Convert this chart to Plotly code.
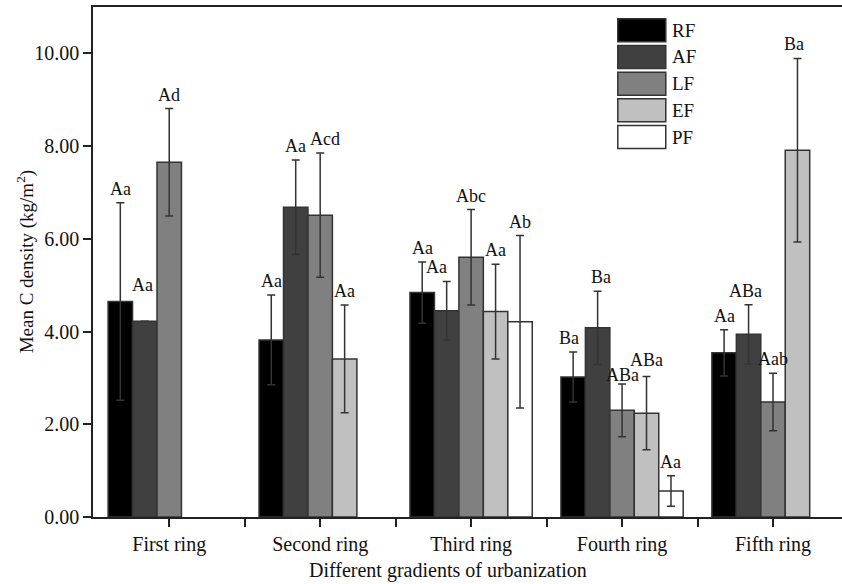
import plotly.graph_objects as go

categories = ["First ring", "Second ring", "Third ring", "Fourth ring", "Fifth ring"]
series = ["RF", "AF", "LF", "EF", "PF"]

RF = [4.65, 3.82, 4.84, 3.02, 3.54]
RF_err = [2.13, 0.97, 0.66, 0.54, 0.50]
RF_lab = ["Aa", "Aa", "Aa", "Ba", "Aa"]

AF = [4.22, 6.68, 4.45, 4.08, 3.94]
AF_err = [None, 1.02, 0.63, 0.79, 0.64]
AF_lab = ["Aa", "Aa", "Aa", "Ba", "ABa"]

LF = [7.65, 6.51, 5.60, 2.30, 2.48]
LF_err = [1.16, 1.34, 1.03, 0.57, 0.62]
LF_lab = ["Ad", "Acd", "Abc", "ABa", "Aab"]

EF = [None, 3.41, 4.43, 2.24, 7.91]
EF_err = [None, 1.16, 1.02, 0.79, 1.98]
EF_lab = [None, "Aa", "Aa", "ABa", "Ba"]

PF = [None, None, 4.21, 0.56, None]
PF_err = [None, None, 1.86, 0.33, None]
PF_lab = [None, None, "Ab", "Aa", None]

values = [RF, AF, LF, EF, PF]
errors = [RF_err, AF_err, LF_err, EF_err, PF_err]
labels = [RF_lab, AF_lab, LF_lab, EF_lab, PF_lab]

colors = ["#000000", "#404040", "#808080", "#c0c0c0", "#ffffff"]
FONT = "Liberation Serif, Times New Roman, serif"
BARGAP = 0.19
# small nudges of some letter labels (px), keyed by (series, category)
label_xshift = {(1, 0): -2, (2, 1): 5, (1, 2): -10, (0, 3): -4, (1, 3): 3,
                (1, 4): -3, (3, 4): -3}
label_yshift = {(2, 3): -5, (3, 3): 3}

xpos = list(range(len(categories)))

fig = go.Figure()
for j, name in enumerate(series):
    fig.add_trace(go.Bar(
        x=xpos, y=values[j], name=name, showlegend=False,
        marker=dict(color=colors[j], line=dict(color="#333333", width=1.5)),
        error_y=dict(type="data", array=errors[j], visible=True,
                     color="#333333", thickness=1.5, width=4),
    ))

annotations = []
slot = (1 - BARGAP) / len(series)
for j in range(len(series)):
    for i in range(len(categories)):
        lab = labels[j][i]
        if lab is None or values[j][i] is None:
            continue
        e = errors[j][i]
        top = values[j][i] + (e if e is not None else 0)
        annotations.append(dict(
            x=i + (j - (len(series) - 1) / 2) * slot, y=top,
            xref="x", yref="y", text=lab, showarrow=False,
            yanchor="bottom", xanchor="center",
            yshift=(2 if e is not None else 24) + label_yshift.get((j, i), 0),
            xshift=label_xshift.get((j, i), 0),
            font=dict(family=FONT, size=18, color="#111111"),
        ))

# manual legend (large swatches like the reference)
plot_l, plot_r, plot_t, plot_b = 92.7, 842.0, 7.3, 517.0
pw, ph = plot_r - plot_l, plot_b - plot_t
def px(x):
    return (x - plot_l) / pw
def py(y):
    return (plot_b - y) / ph

shapes = []
for k, name in enumerate(series):
    y0 = 19 + 26.7 * k
    shapes.append(dict(type="rect", xref="paper", yref="paper",
                       x0=px(617.7), x1=px(665.7), y0=py(y0 + 23), y1=py(y0),
                       fillcolor=colors[k], line=dict(color="#333333", width=1.5)))
    annotations.append(dict(x=px(670), y=py(y0 + 11.5), xref="paper", yref="paper",
                            text=name, showarrow=False, xanchor="left", yanchor="middle",
                            font=dict(family=FONT, size=19, color="#111111")))

annotations.append(dict(x=px(448), y=py(583.5), xref="paper", yref="paper",
                        text="Different gradients of urbanization", showarrow=False,
                        xanchor="center", yanchor="bottom",
                        font=dict(family=FONT, size=20, color="#111111")))
annotations.append(dict(x=px(25), y=0.5, xref="paper", yref="paper",
                        text="Mean C density (kg/m<sup>2</sup>)", showarrow=False,
                        textangle=-90, xanchor="center", yanchor="middle",
                        font=dict(family=FONT, size=19, color="#111111")))

fig.update_layout(
    width=842, height=584,
    margin=dict(l=93, r=0, t=7, b=67, autoexpand=False),
    barmode="group", bargap=BARGAP, bargroupgap=0,
    plot_bgcolor="white", paper_bgcolor="white",
    font=dict(family=FONT, size=20, color="#111111"),
    shapes=shapes, annotations=annotations,
    xaxis=dict(range=[-0.505, 4.457], tickmode="array", tickvals=xpos,
               ticktext=categories, ticks="outside", ticklen=8, tickwidth=1.5,
               tickcolor="#222222", showline=True, linecolor="#222222",
               linewidth=1.5, mirror=True, showgrid=False, zeroline=False,
               tickfont=dict(family=FONT, size=20),
               minor=dict(tickmode="array", tickvals=[i + 0.5 for i in xpos],
                          ticks="outside", ticklen=8, tickwidth=1.5,
                          tickcolor="#222222", showgrid=False)),
    yaxis=dict(range=[0, 11.0], dtick=2, tick0=0, tickformat=".2f",
               ticks="outside", ticklen=8, tickwidth=1.5, tickcolor="#222222",
               showline=True, linecolor="#222222", linewidth=1.5,
               showgrid=False, zeroline=False,
               tickfont=dict(family=FONT, size=20)),
)

fig.write_html("out.html", config={"displayModeBar": False},
               post_script="document.body.style.margin='0';document.body.style.overflow='hidden';")
